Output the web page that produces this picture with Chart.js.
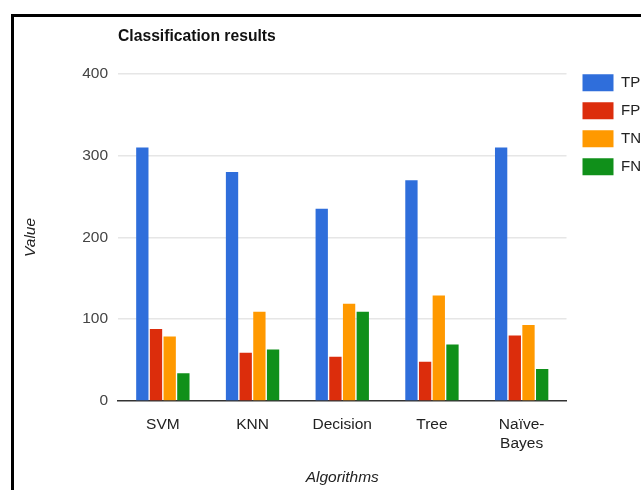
<!DOCTYPE html>
<html>
<head>
<meta charset="utf-8">
<script src="https://cdn.jsdelivr.net/npm/chart.js@4/dist/chart.umd.min.js"></script>
<style>
  html, body { margin: 0; padding: 0; background: #fff; overflow: hidden; width: 641px; height: 490px; }
  #wrap { position: absolute; left: 0; top: 0; width: 651px; height: 490px; }
  #frame { position: absolute; left: 11px; top: 14px; width: 700px; height: 600px;
           border-left: 3px solid #000; border-top: 3px solid #000; box-sizing: border-box; pointer-events: none; }
</style>
</head>
<body>
<div id="wrap"><canvas id="c" width="651" height="490"></canvas></div>
<div id="frame"></div>
<script>
const categories = ["SVM", "KNN", "Decision", "Tree", ["Naïve-", "Bayes"]];
const seriesNames = ["TP", "FP", "TN", "FN"];
const tpValues = [310, 280, 235, 270, 310];
const fpValues = [88, 59, 54, 48, 80];
const tnValues = [79, 109, 119, 129, 93];
const fnValues = [34, 63, 109, 69, 39];
const yTicks = [0, 100, 200, 300, 400];

const colors = ["#2f6edb", "#dc2d0c", "#ff9900", "#10901a"];
const seriesValues = [tpValues, fpValues, tnValues, fnValues];

Chart.defaults.font.family = '"Liberation Sans", Arial, sans-serif';
const BASE = 15.5;

new Chart(document.getElementById('c'), {
  type: 'bar',
  data: {
    labels: categories,
    datasets: seriesNames.map((n, i) => ({
      label: n,
      data: seriesValues[i],
      backgroundColor: colors[i],
      borderWidth: 0,
      categoryPercentage: 0.61,
      barPercentage: 0.9
    }))
  },
  options: {
    responsive: false,
    animation: false,
    devicePixelRatio: 1,
    layout: { padding: { left: 14, top: 20, right: 0, bottom: 0 } },
    plugins: {
      title: {
        display: true,
        text: 'Classification results',
        align: 'start',
        fullSize: false,
        color: '#111',
        font: { size: 15.7, weight: 'bold' },
        padding: { top: 7, bottom: 28 }
      },
      legend: {
        position: 'right',
        align: 'start',
        fullSize: true,
        title: { display: true, text: '', font: { size: 1 }, padding: { top: 42, bottom: 0 } },
        labels: {
          boxWidth: 31,
          boxHeight: 17,
          padding: 11,
          color: '#222',
          font: { size: 15 }
        }
      },
      tooltip: { enabled: false }
    },
    scales: {
      x: {
        grid: { display: false },
        border: { display: true, color: '#333', width: 1.5 },
        ticks: { color: '#222', font: { size: BASE, lineHeight: 1.25 }, padding: 6, maxRotation: 0 },
        title: { display: true, text: 'Algorithms', color: '#222', font: { size: BASE, style: 'italic' }, padding: { top: 0, bottom: 3 } },
        afterFit: s => { s.height = 89; }
      },
      y: {
        min: 0, max: 400,
        afterBuildTicks: s => { s.ticks = yTicks.map(v => ({ value: v })); },
        grid: {
          color: ctx => (ctx.tick && ctx.tick.value === 0) ? 'rgba(0,0,0,0)' : '#e6e6e6',
          drawTicks: false,
          lineWidth: 1.5
        },
        border: { display: false },
        ticks: { color: '#444', font: { size: BASE }, padding: 10 },
        title: { display: true, text: 'Value', color: '#222', font: { size: BASE, style: 'italic' }, padding: { top: 7, bottom: 4 } },
        afterFit: s => { s.width = 104; }
      },
      ySpacer: {
        position: 'right',
        display: true,
        grid: { display: false, drawTicks: false },
        border: { display: false },
        ticks: { display: false },
        afterFit: s => { s.width = 5; }
      }
    }
  }
});
</script>
</body>
</html>
